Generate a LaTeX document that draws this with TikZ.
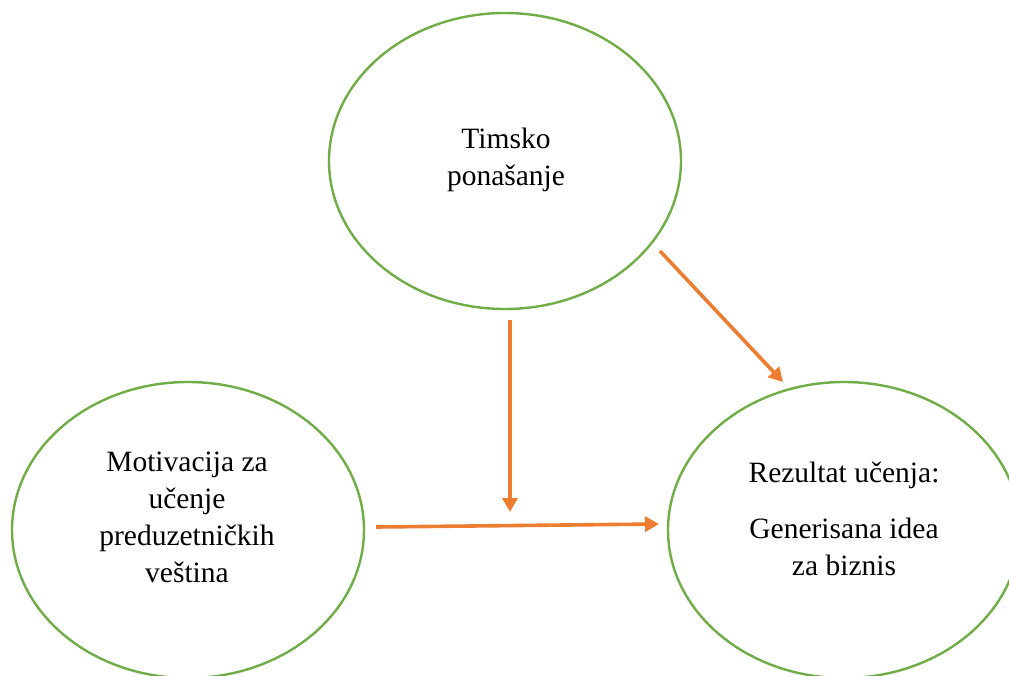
\documentclass[tikz,border=0pt]{standalone}
\usepackage{fontspec}
\setmainfont{Liberation Serif}
\usetikzlibrary{shapes.geometric,arrows.meta,calc}
\definecolor{bubblegreen}{HTML}{70AD47}
\definecolor{arroworange}{HTML}{ED7D31}
\begin{document}
\begin{tikzpicture}[x=1pt,y=-1pt,
  bubble/.style={ellipse,draw=bubblegreen,line width=2.4pt,minimum width=352pt,minimum height=296pt,inner sep=0pt},
  txt/.style={align=center,anchor=base,inner sep=0pt,font=\fontsize{29.5}{37}\selectfont},
  arr/.style={draw=arroworange,line width=3.6pt,-{Triangle[length=14pt,width=15pt]}}]
\useasboundingbox (0,0) rectangle (1009,675);
\node[bubble] (team) at (505,161) {};
\node[bubble] (motiv) at (188,530) {};
\node[bubble] (result) at (844,530) {};
\node[txt] (teamtxt) at (506,185) {Timsko\\ponašanje};
\node[txt] (motivtxt) at (187,582) {Motivacija za\\učenje\\preduzetničkih\\veština};
\node[txt] (resulttxt) at (844,575) {Rezultat učenja:\\[19pt]Generisana idea\\za biznis};
\coordinate (vtip) at (510,512);
\coordinate (htip) at (659,524);
\coordinate (dtip) at (783,382);
\draw[arr] ($(team.south)+(5,10)$) -- (vtip);
\draw[arr] ($(motiv.east)+(11,-3)$) -- (htip);
\draw[arr] ($(team.center)+(155,90)$) -- (dtip);
\end{tikzpicture}
\end{document}
